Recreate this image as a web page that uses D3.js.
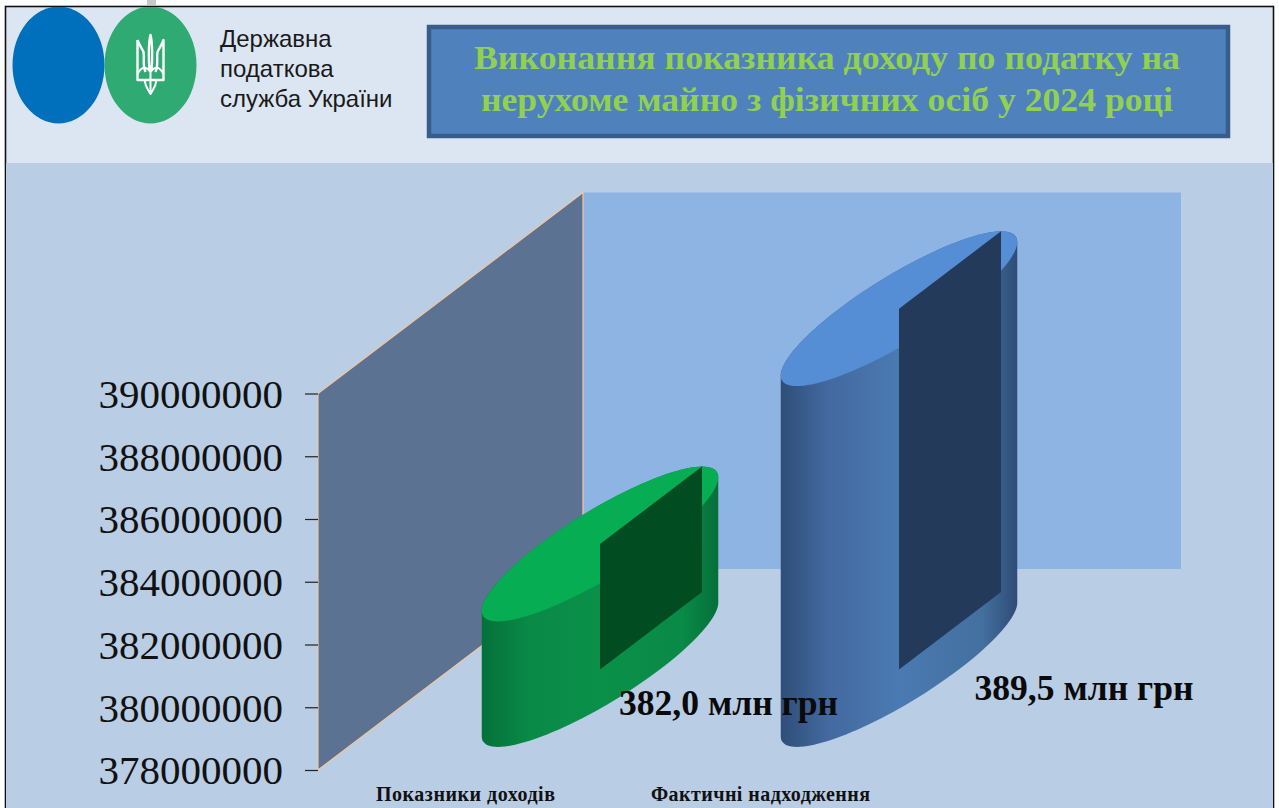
<!DOCTYPE html>
<html><head><meta charset="utf-8">
<style>html,body{margin:0;padding:0;background:#fff;overflow:hidden}svg{display:block}</style>
<script src="https://cdn.jsdelivr.net/npm/d3@7"></script></head>
<body><svg id="c" width="1279" height="808"></svg>
<script>
const categories = ["Показники доходів", "Фактичні надходження"];
const values = [382000000, 389500000];
const valueLabels = ["382,0 млн грн", "389,5 млн грн"];
const tickValues = [378000000, 380000000, 382000000, 384000000, 386000000, 388000000, 390000000];
const titleLines = ["Виконання показника доходу по податку на", "нерухоме майно з фізичних осіб у 2024 році"];
const orgLines = ["Державна", "податкова", "служба України"];
const barColors = [
  {top:"#06ad53", panel:"#024c22", stops:["#05703a","#098a46","#0a9049","#098a46","#066f3a"]},
  {top:"#558ed5", panel:"#233a5b", stops:["#2f4e78","#4369a0","#4a7ab2","#44709f","#2e4c76"]}
];

const svg = d3.select("#c");
const defs = svg.append("defs");

// page panels
svg.append("rect").attr("x",5.5).attr("y",6.5).attr("width",1268).attr("height",802)
  .attr("fill","#dce6f2").attr("stroke","#111").attr("stroke-width",1.6);
svg.append("rect").attr("x",6).attr("y",163).attr("width",1267).attr("height",645).attr("fill","#b9cde5");
svg.append("rect").attr("x",147).attr("y",0).attr("width",9).attr("height",5).attr("fill","#c9c9c9");

// logo
const logo = svg.append("g");
defs.append("clipPath").attr("id","hdr").append("rect").attr("x",6).attr("y",7).attr("width",1267).attr("height",156);
const lg = logo.append("g").attr("clip-path","url(#hdr)");
lg.append("ellipse").attr("cx",58.5).attr("cy",65).attr("rx",46).attr("ry",58.5).attr("fill","#0070bc");
lg.append("ellipse").attr("cx",150.5).attr("cy",65).attr("rx",46).attr("ry",58.5).attr("fill","#2eaa72");
const tr = logo.append("g").attr("transform","translate(150.5,0)").attr("fill","none").attr("stroke","#fff").attr("stroke-linejoin","round");
tr.append("path").attr("stroke-width",2.4).attr("d","M-13,40 L-13,80 L13,80 L13,40 C11,46 8,49 7,52 C6,60 8,66 5,72 M-13,40 C-11,46 -8,49 -7,52 C-6,60 -8,66 -5,72");
tr.append("path").attr("stroke-width",2.4).attr("d","M0,35 C-2,42 -2,60 -1,70 L1,70 C2,60 2,42 0,35Z");
tr.append("path").attr("stroke-width",2).attr("d","M-13,74 C-8,64 -3,68 0,72 C3,68 8,64 13,74 M-6,80 C-5,88 -2,90 0,94 C2,90 5,88 6,80 M0,72 L0,92");
const orgT = svg.append("g").attr("font-family","'Liberation Sans',Arial,sans-serif").attr("font-size",24).attr("fill","#1a1a1a");
orgT.selectAll("text").data(orgLines).join("text").attr("x",220).attr("y",(d,i)=>46.5+i*30).text(d=>d);

// title box
svg.append("rect").attr("x",429).attr("y",27).attr("width",799).attr("height",109)
  .attr("fill","#4f81bd").attr("stroke","#385d8a").attr("stroke-width",4.5);
const titleLen = [706, 692];
const titleT = svg.append("g").attr("font-family","'Liberation Serif',serif").attr("font-weight","bold")
  .attr("font-size",34).attr("fill","#92d050").attr("text-anchor","middle");
titleT.selectAll("text").data(titleLines).join("text").attr("x",827).attr("y",(d,i)=>69+i*42)
  .attr("textLength",(d,i)=>titleLen[i]).attr("lengthAdjust","spacingAndGlyphs").text(d=>d);

// 3D chart scales
const yBase = 770, yTop = 393.5;
const y = d3.scaleLinear().domain([378000000,390000000]).range([yBase,yTop]);
const x = d3.scaleBand().domain(categories).range([318,916]);
const depthDx = 265, depthDy = 201;
const project = (px, depth, py) => [px + depth*depthDx, py - depth*depthDy];

// walls
svg.append("rect").attr("x",project(318,1,0)[0]).attr("y",project(0,1,yTop)[1])
  .attr("width",598).attr("height",yBase-yTop).attr("fill","#8eb4e3");
const wall = [project(318,0,yBase),project(318,0,yTop),project(318,1,yTop),project(318,1,yBase)];
svg.append("path").attr("d",d3.line()(wall)+"Z").attr("fill","#5b7293").attr("stroke","#f2c79c").attr("stroke-width",1.2);

// axis
const axis = d3.axisLeft(y).tickValues(tickValues).tickFormat(d3.format("d")).tickSize(13).tickSizeOuter(0).tickPadding(22);
const ag = svg.append("g").attr("transform","translate(318,0)").call(axis);
ag.select(".domain").remove();
ag.selectAll("line").attr("stroke","#222").attr("stroke-width",1.2);
ag.selectAll("text").attr("font-family","'Liberation Serif',serif").attr("font-size",41).attr("fill","#111").attr("dy","0.34em");

// cylinders
const planeW = 0.4, depthSpan = 0.77;
const ts = d3.range(0,361,3).map(a=>a*Math.PI/180);
categories.forEach((cat,i)=>{
  const cx = x(cat)+x.bandwidth()/2, a = x.bandwidth()*planeW/2, col = barColors[i];
  const ring = py => ts.map(t=>project(cx+a*Math.cos(t), 0.5+depthSpan/2*Math.sin(t), py));
  const topY = y(values[i]), botY = y(378000000);
  const topR = ring(topY), botR = ring(botY);
  const hull = d3.polygonHull(topR.concat(botR));
  const ext = d3.extent(hull,d=>d[0]);
  const id = "g"+i;
  const g = defs.append("linearGradient").attr("id",id).attr("gradientUnits","userSpaceOnUse")
    .attr("x1",ext[0]).attr("x2",ext[1]).attr("y1",0).attr("y2",0);
  [0,0.2,0.5,0.85,1].forEach((o,k)=>g.append("stop").attr("offset",o).attr("stop-color",col.stops[k]));
  svg.append("path").attr("d",d3.line()(hull)+"Z").attr("fill",`url(#${id})`);
  svg.append("path").attr("d",d3.line()(topR)+"Z").attr("fill",col.top);
  const panel = [project(cx,0.5,topY),project(cx,0.5+depthSpan/2,topY),project(cx,0.5+depthSpan/2,botY),project(cx,0.5,botY)];
  svg.append("path").attr("d",d3.line()(panel)+"Z").attr("fill",col.panel);
});

// value labels
const labelPos = [[728.5,715],[1084,700]];
svg.append("g").selectAll("text").data(valueLabels).join("text")
  .attr("x",(d,i)=>labelPos[i][0]).attr("y",(d,i)=>labelPos[i][1])
  .attr("text-anchor","middle").attr("font-family","'Liberation Serif',serif").attr("font-weight","bold")
  .attr("font-size",35).attr("fill","#0a0a0a")
  .attr("textLength",219).attr("lengthAdjust","spacingAndGlyphs").text(d=>d);

// category labels
const catLen = [179, 219];
svg.append("g").selectAll("text").data(categories).join("text")
  .attr("x",(d,i)=>x(d)+x.bandwidth()/2-(i?6:2)).attr("y",801)
  .attr("text-anchor","middle").attr("font-family","'Liberation Serif',serif").attr("font-weight","bold")
  .attr("font-size",20).attr("fill","#111")
  .attr("textLength",(d,i)=>catLen[i]).attr("lengthAdjust","spacing").text(d=>d);
</script></body></html>
